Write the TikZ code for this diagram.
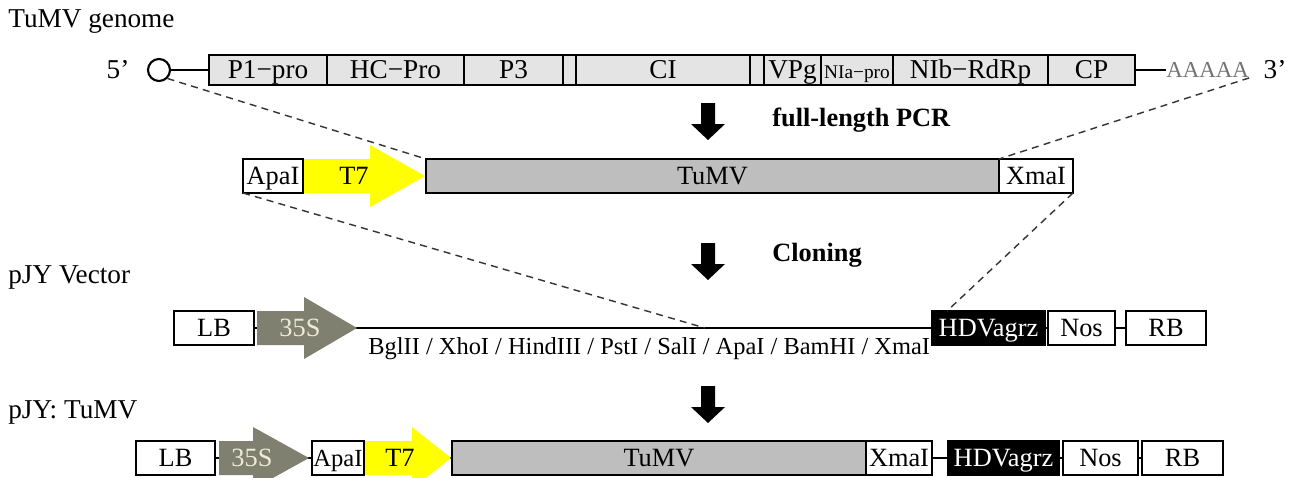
\documentclass[tikz,border=0pt]{standalone}
\usepackage{fontspec}
\setmainfont{Liberation Serif}
\usetikzlibrary{positioning,backgrounds}

\definecolor{segfill}{RGB}{228,228,228}
\definecolor{virusfill}{RGB}{190,190,190}
\definecolor{promfill}{RGB}{128,128,112}
\definecolor{promtext}{RGB}{236,236,214}
\definecolor{t7fill}{RGB}{255,255,0}

% promoter arrow: x start, head start, tip, row y, colour
\newcommand{\promarrow}[5]{%
  \fill[#5] (#1,#4-17) -- (#2,#4-17) -- (#2,#4-31) -- (#3,#4) -- (#2,#4+31) -- (#2,#4+17) -- (#1,#4+17) -- cycle;}

\begin{document}
\begin{tikzpicture}[
    x=0.02cm, y=-0.02cm,
    seg/.style={rectangle, draw, line width=1.1pt, fill=segfill, minimum height=0.6cm, inner sep=0pt, outer sep=0pt, text height=10pt, text depth=0pt, font=\fontsize{15.5}{18}\selectfont, anchor=west},
    site/.style={rectangle, draw, line width=0.6pt, fill=white, minimum height=0.68cm, inner sep=1pt, outer sep=0pt, text height=10pt, text depth=0pt, font=\fontsize{15}{18}\selectfont, anchor=west},
    virus/.style={site, fill=virusfill},
    hdv/.style={site, fill=black, text=white},
    promlabel/.style={inner sep=0pt, text height=10pt, text depth=0pt, font=\fontsize{15}{18}\selectfont},
    title/.style={font=\fontsize{15.5}{18}\selectfont, anchor=west, inner sep=0pt},
    steptext/.style={font=\bfseries\fontsize{15}{18}\selectfont, anchor=west, inner sep=0pt},
    guide/.style={dash pattern=on 4pt off 3pt, line width=0.8pt, black!80},
]
    \useasboundingbox (0,0) rectangle (1307,477);

    % Genome
    \node[title] (genome) at (8,22) {TuMV genome};
    \node[title, anchor=center] (five) at (118,70) {5’};
    \node[circle, draw, line width=1.2pt, minimum size=0.44cm, inner sep=0pt] (cap) at (159,70) {};
    \foreach \n/\x/\w/\t in {g1/209/2.36/P1−pro, g2/327/2.74/HC−Pro, g3/464/1.98/P3, g4/563/0.26/{}, g5/576/3.48/CI,
        g6/750/0.28/{}, g7/764/1.14/VPg, g8/821/1.44/{\fontsize{11}{12}\selectfont NIa−pro}, g9/893/3.10/NIb−RdRp, g10/1048/1.74/CP}
        \node[seg, minimum width=\w cm] (\n) at (\x,70) {\t};
    \node[anchor=west, inner sep=0pt, text=black!55, font=\fontsize{13}{15}\selectfont] (polyA) at (1166,70) {AAAAA};
    \node[title, anchor=center] (three) at (1275,70) {3’};
    \draw[line width=1.2pt] (cap) -- (g1);
    \draw[line width=1.2pt] (g10.east) -- (polyA.west);

    % Step arrows
    \foreach \y in {103,243,386}
        \fill (701,\y) -- (715,\y) -- (715,\y+21) -- (725,\y+21) -- (708,\y+37) -- (691,\y+21) -- (701,\y+21) -- cycle;
    \node[steptext] (pcr) at (772,120) {full-length PCR};
    \node[steptext] (clone) at (772,255) {Cloning};

    % PCR product
    \promarrow{303}{370}{425}{176}{t7fill}
    \node[site, minimum width=1.2cm] (apaA) at (243,176) {ApaI};
    \node[promlabel] (t7A) at (354,176) {T7};
    \node[virus, minimum width=11.46cm] (tumvA) at (426,176) {TuMV};
    \node[site, minimum width=1.48cm] (xmaA) at (999,176) {XmaI};
    \draw[guide] (cap.south east) -- (tumvA.north west);
    \draw[guide] (polyA.south east) -- (xmaA.north west);

    % pJY vector
    \node[title] (vector) at (8,277) {pJY Vector};
    \promarrow{257}{304}{357}{328}{promfill}
    \node[site, minimum width=1.6cm] (lbB) at (174,328) {LB};
    \node[promlabel, text=promtext] (s35B) at (300,328) {35S};
    \coordinate (tipB) at (357,328);
    \node[hdv, minimum width=2.26cm] (hdvB) at (932,328) {HDVagrz};
    \node[site, minimum width=1.34cm] (nosB) at (1048,328) {Nos};
    \node[site, minimum width=1.6cm] (rbB) at (1126,328) {RB};
    \draw[line width=1.2pt] (tipB) -- (hdvB.west);
    \coordinate (apaSite) at (705,328);
    \node[anchor=north west, inner sep=0pt, font=\fontsize{13.9}{16}\selectfont] (sitesB) at (368,337) {BglII / XhoI / HindIII / PstI / SalI / ApaI / BamHI / XmaI};
    \begin{pgfonlayer}{background}
        \draw[line width=0.6pt] (lbB) -- (rbB);
    \end{pgfonlayer}
    \draw[guide] (apaA.south west) -- (apaSite);
    \draw[guide] (xmaA.south east) -- ([xshift=0.3cm]hdvB.north west);

    % pJY: TuMV
    \node[title] (clone2) at (8,412) {pJY: TuMV};
    \promarrow{219}{253}{309}{458}{promfill}
    \promarrow{364}{412}{451}{458}{t7fill}
    \node[site, minimum width=1.58cm] (lbC) at (136,458) {LB};
    \node[promlabel, text=promtext] (s35C) at (252,458) {35S};
    \node[site, minimum width=1.04cm, inner sep=0pt, font=\fontsize{14}{16}\selectfont] (apaC) at (312,458) {ApaI};
    \node[promlabel] (t7C) at (400,458) {T7};
    \node[virus, minimum width=8.28cm] (tumvC) at (452,458) {TuMV};
    \node[site, minimum width=1.32cm] (xmaC) at (866,458) {XmaI};
    \node[hdv, minimum width=2.22cm] (hdvC) at (948,458) {HDVagrz};
    \node[site, minimum width=1.5cm] (nosC) at (1063,458) {Nos};
    \node[site, minimum width=1.62cm] (rbC) at (1142,458) {RB};
    \begin{pgfonlayer}{background}
        \draw[line width=0.6pt] (lbC) -- (rbC);
    \end{pgfonlayer}
\end{tikzpicture}
\end{document}
